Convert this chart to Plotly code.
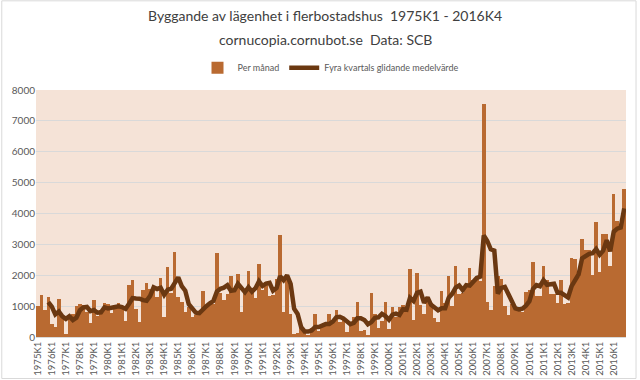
import plotly.graph_objects as go
import pandas as pd

years = list(range(1975, 2017))
quarters = ["K1", "K2", "K3", "K4"]
categories = [f"{y}{q}" for y in years for q in quarters]
tick_labels = [f"{y}K1" for y in years]

# Quarterly values, one row per year K1..K4
per_kvartal = [
    1000, 1350, 870, 1300,   # 1975
    420, 330, 1240, 680,     # 1976
    100, 660, 750, 1000,     # 1977
    1060, 1030, 800, 460,    # 1978
    1200, 680, 860, 1090,    # 1979
    1060, 770, 1030, 1110,   # 1980
    970, 530, 1700, 1850,    # 1981
    920, 500, 1510, 1760,    # 1982
    1560, 1600, 1300, 1920,  # 1983
    650, 2270, 1410, 2750,   # 1984
    1300, 1140, 815, 980,    # 1985
    650, 700, 770, 1500,     # 1986
    1030, 1060, 1060, 2720,  # 1987
    1410, 1200, 1380, 1990,  # 1988
    1490, 2030, 815, 1470,   # 1989
    2130, 1470, 1250, 2370,  # 1990
    1520, 1790, 1330, 1360,  # 1991
    1880, 3300, 815, 2000,   # 1992
    760, 90, 130, 300,       # 1993
    190, 80, 280, 750,       # 1994
    190, 320, 410, 750,      # 1995
    520, 880, 470, 550,      # 1996
    170, 470, 640, 1140,     # 1997
    190, 240, 80, 1420,      # 1998
    750, 300, 520, 1140,     # 1999
    270, 960, 650, 970,      # 2000
    1030, 890, 2200, 560,    # 2001
    2070, 1050, 760, 1250,   # 2002
    1100, 620, 490, 1500,    # 2003
    1100, 1990, 1000, 2300,  # 2004
    1380, 1410, 1630, 2230,  # 2005
    1850, 1950, 1800, 7550,  # 2006
    1140, 870, 1640, 1990,   # 2007
    1870, 1000, 700, 1080,   # 2008
    920, 860, 810, 1460,     # 2009
    1510, 2430, 1320, 1320,  # 2010
    2290, 1840, 1380, 1400,  # 2011
    1100, 1840, 1080, 1100,  # 2012
    2560, 2520, 1930, 3190,  # 2013
    2830, 2830, 2000, 3730,  # 2014
    2100, 3350, 3350, 2300,  # 2015
    4640, 3750, 3500, 4780,  # 2016
]

glidande = pd.Series(per_kvartal).rolling(4).mean().tolist()

title_line1 = "Byggande av lägenhet i flerbostadshus  1975K1 - 2016K4"
title_line2 = "cornucopia.cornubot.se  Data: SCB"

bar_color = "#B96A31"
line_color = "#6B3811"
text_color = "#595959"
font_family = "Lato, 'Liberation Sans Narrow', sans-serif"

fig = go.Figure()
fig.add_trace(go.Bar(
    x=categories, y=per_kvartal, name="Per månad",
    marker=dict(color=bar_color, line=dict(width=0)),
))
fig.add_trace(go.Scatter(
    x=categories, y=glidande, name="Fyra kvartals glidande medelvärde",
    mode="lines", line=dict(color=line_color, width=4.5),
))

fig.update_layout(
    width=640, height=380,
    margin=dict(l=36, r=14, t=90, b=43),
    paper_bgcolor="white",
    plot_bgcolor="#F5E3D7",
    bargap=0,
    font=dict(family=font_family, color=text_color, size=10),
    legend=dict(
        orientation="h", x=0.5, xanchor="center", y=1.09, yanchor="middle",
        font=dict(size=9, color=text_color), itemwidth=30,
        bgcolor="rgba(0,0,0,0)",
    ),
    showlegend=True,
)
fig.add_annotation(text=title_line1, xref="paper", yref="paper",
                   x=0.49, y=1.30, xanchor="center", yanchor="middle",
                   showarrow=False, font=dict(size=14, color="#404040"))
fig.add_annotation(text=title_line2, xref="paper", yref="paper",
                   x=0.49, y=1.205, xanchor="center", yanchor="middle",
                   showarrow=False, font=dict(size=14, color="#404040"))
fig.update_xaxes(
    type="category", tickmode="array", tickvals=tick_labels, ticktext=tick_labels,
    tickangle=-90, tickfont=dict(size=9.5, color=text_color),
    showgrid=False, showline=True, linecolor="#D9D9D9", ticks="",
    automargin=False,
)
fig.update_yaxes(
    range=[0, 8000], dtick=1000, tickfont=dict(size=10, color=text_color),
    showgrid=True, gridcolor="#D9D9D9", gridwidth=1, zeroline=False,
    showline=False, ticks="", automargin=False,
)
fig.add_shape(type="rect", xref="paper", yref="paper",
              x0=-0.058, x1=1.017, y0=-0.168, y1=1.361,
              line=dict(color="#D9D9D9", width=1), layer="below")

fig.write_html("out.html", config={"displayModeBar": False},
               post_script="document.body.style.margin='0';")
